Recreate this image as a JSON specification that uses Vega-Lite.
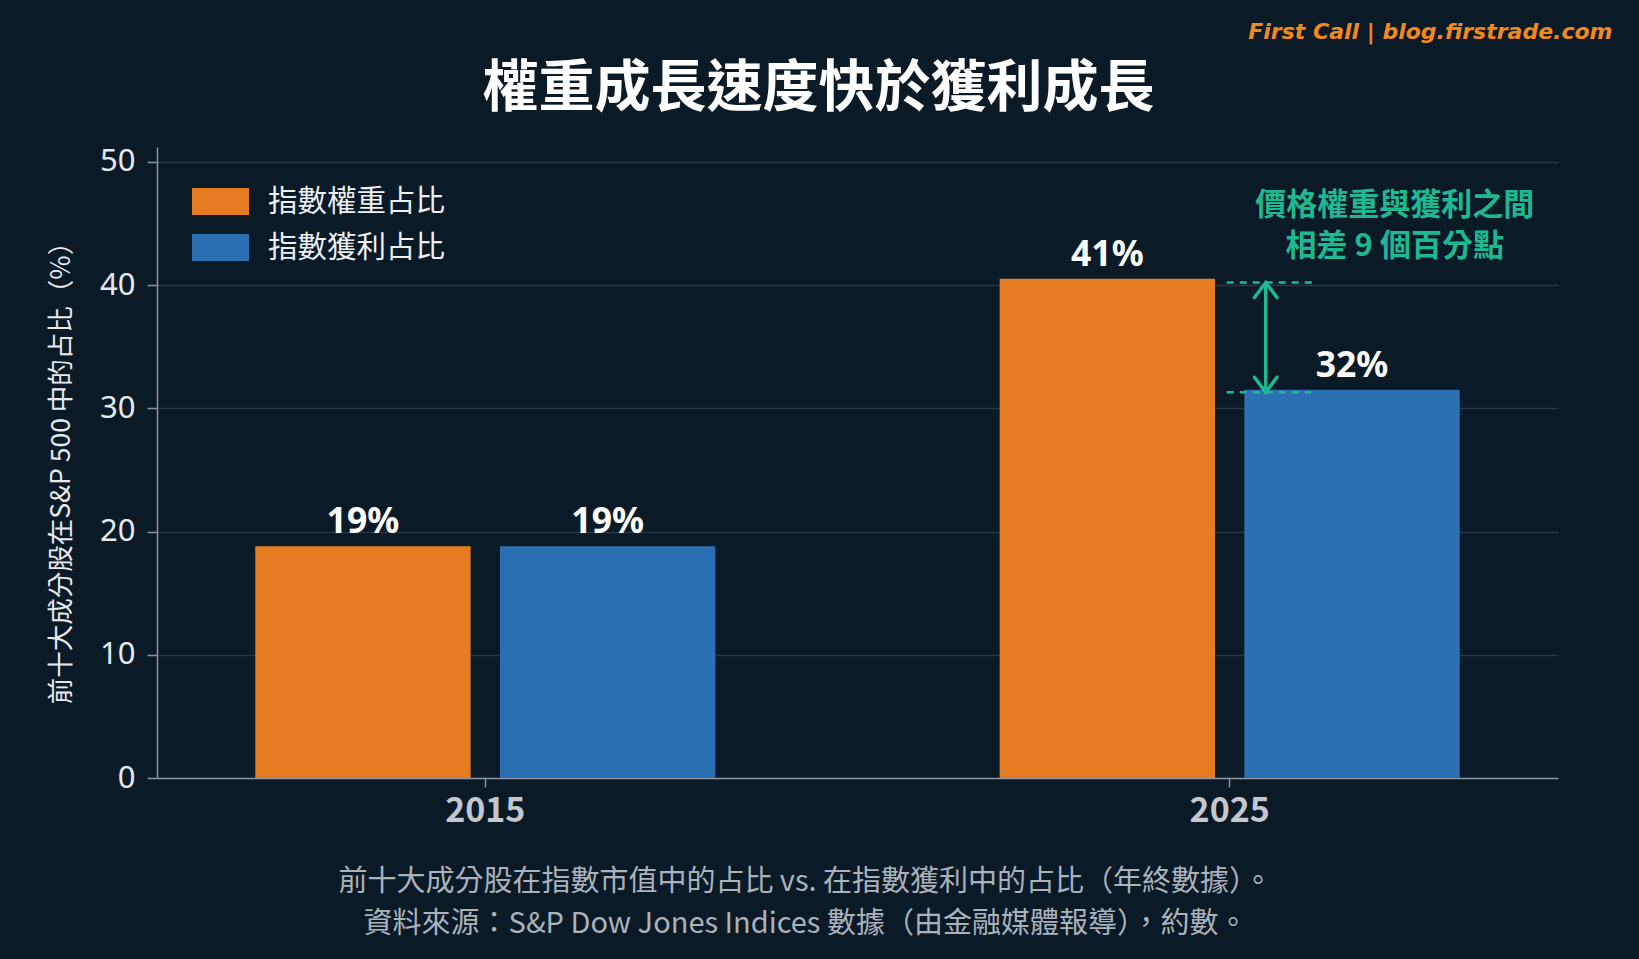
{
  "$schema": "https://vega.github.io/schema/vega-lite/v6.json",
  "description": "權重成長速度快於獲利成長",
  "width": 1401,
  "height": 631,
  "autosize": {"type": "none"},
  "padding": {"left": 157, "top": 147, "right": 81, "bottom": 181},
  "background": "#0b1a27",
  "title": {
    "text": "權重成長速度快於獲利成長",
    "font": "Noto Sans CJK TC",
    "fontSize": 56,
    "fontWeight": "bold",
    "color": "#ffffff",
    "anchor": "middle",
    "frame": "group",
    "dx": -39,
    "dy": 98,
    "offset": 0
  },
  "config": {
    "view": {"stroke": null},
    "font": "Noto Sans CJK TC"
  },
  "resolve": {"axis": {"x": "independent"}},
  "data": {
    "values": [
      {"year": "2015", "series": "指數權重占比", "value": 18.8, "label": "19%"},
      {"year": "2015", "series": "指數獲利占比", "value": 18.8, "label": "19%"},
      {"year": "2025", "series": "指數權重占比", "value": 40.5, "label": "41%"},
      {"year": "2025", "series": "指數獲利占比", "value": 31.5, "label": "32%"}
    ]
  },
  "layer": [
    {
      "mark": {"type": "bar"},
      "encoding": {
        "x": {
          "field": "year",
          "type": "nominal",
          "scale": {"paddingInner": 0.382, "paddingOuter": 0.132},
          "axis": {
            "title": ["前十大成分股在指數市值中的占比 vs. 在指數獲利中的占比（年終數據）。", "資料來源：S&P Dow Jones Indices 數據（由金融媒體報導），約數。"],
            "titleFont": "Noto Sans CJK TC",
            "titleFontSize": 29,
            "titleFontWeight": "normal",
            "titleColor": "#aab2bb",
            "titleLineHeight": 42,
            "titleX": 648,
            "titleY": 112,
            "titleAlign": "center",
            "titleBaseline": "alphabetic",
            "labelAngle": 0,
            "labelFontSize": 34,
            "labelFontWeight": "bold",
            "labelColor": "#c3c8cf",
            "labelPadding": 7,
            "tickSize": 9,
            "tickColor": "#8b949d",
            "tickWidth": 1.5,
            "domainColor": "#8b949d",
            "domainWidth": 1.5,
            "grid": false
          }
        },
        "xOffset": {
          "field": "series",
          "type": "nominal",
          "scale": {"domain": ["指數權重占比", "指數獲利占比"], "paddingInner": 0.12}
        },
        "y": {
          "field": "value",
          "type": "quantitative",
          "scale": {"domain": [0, 51.2], "nice": false},
          "axis": {
            "title": "前十大成分股在S&P 500 中的占比（%）",
            "titleFont": "Noto Sans CJK TC",
            "titleFontSize": 26.5,
            "titleFontWeight": "normal",
            "titleColor": "#e6eaee",
            "titleX": -96,
            "titleY": 319,
            "titleAngle": -90,
            "titleAlign": "center",
            "titleBaseline": "middle",
            "values": [0, 10, 20, 30, 40, 50],
            "labelFont": "Noto Sans",
            "labelFontSize": 31,
            "labelColor": "#e6eaee",
            "labelPadding": 12,
            "tickSize": 10,
            "tickColor": "#8b949d",
            "tickWidth": 1.5,
            "domainColor": "#8b949d",
            "domainWidth": 1.5,
            "grid": true,
            "gridColor": "#24384a",
            "gridWidth": 1.5
          }
        },
        "color": {
          "field": "series",
          "type": "nominal",
          "scale": {"domain": ["指數權重占比", "指數獲利占比"], "range": ["#e67c21", "#2a70b3"]},
          "legend": {
            "orient": "none",
            "legendX": 35,
            "legendY": 26,
            "title": null,
            "direction": "vertical",
            "symbolType": "M-1,-0.474H1V0.474H-1Z",
            "symbolSize": 3249,
            "symbolStrokeWidth": 0,
            "symbolOpacity": 1,
            "labelFont": "Noto Sans CJK TC",
            "labelFontSize": 29.5,
            "labelColor": "#eef1f4",
            "labelOffset": 19,
            "labelLimit": 0,
            "rowPadding": 3
          }
        }
      }
    },
    {
      "mark": {"type": "text", "fontSize": 35.5, "fontWeight": "bold", "font": "Noto Sans", "color": "#ffffff", "baseline": "alphabetic", "dy": -13},
      "encoding": {
        "x": {"field": "year", "type": "nominal", "axis": null},
        "xOffset": {"field": "series", "type": "nominal"},
        "y": {"field": "value", "type": "quantitative"},
        "text": {"field": "label"}
      }
    },
    {
      "data": {"values": [{"year": "2025", "level": 40.2}, {"year": "2025", "level": 31.3}]},
      "mark": {"type": "rule", "color": "#1db992", "strokeWidth": 2.5, "strokeDash": [7, 6], "xOffset": -3, "x2Offset": 85},
      "encoding": {
        "x": {"field": "year", "type": "nominal", "bandPosition": 0.5, "axis": null},
        "x2": {"field": "year", "bandPosition": 0.5},
        "y": {"field": "level", "type": "quantitative"}
      }
    },
    {
      "data": {"values": [{"year": "2025", "top": 40.2, "bottom": 31.3}]},
      "mark": {"type": "rule", "color": "#1db992", "strokeWidth": 3.5, "xOffset": 36},
      "encoding": {
        "x": {"field": "year", "type": "nominal", "axis": null},
        "y": {"field": "top", "type": "quantitative"},
        "y2": {"field": "bottom"}
      }
    },
    {
      "data": {"values": [{"year": "2025", "level": 40.2, "dir": "up"}, {"year": "2025", "level": 31.3, "dir": "down"}]},
      "mark": {"type": "point", "filled": false, "stroke": "#1db992", "strokeWidth": 3.5, "strokeCap": "round", "size": 900, "opacity": 1, "xOffset": 36},
      "encoding": {
        "x": {"field": "year", "type": "nominal", "axis": null},
        "y": {"field": "level", "type": "quantitative"},
        "shape": {
          "field": "dir",
          "type": "nominal",
          "scale": {"domain": ["up", "down"], "range": ["M-0.75,1L0,0L0.75,1", "M-0.75,-1L0,0L0.75,-1"]},
          "legend": null
        }
      }
    },
    {
      "data": {"values": [{"year": "2025", "line": "價格權重與獲利之間", "level": 46.4}, {"year": "2025", "line": "相差 9 個百分點", "level": 43.1}]},
      "mark": {"type": "text", "font": "Noto Sans CJK TC", "fontSize": 31, "fontWeight": "bold", "color": "#1db992", "align": "center", "baseline": "middle", "xOffset": 165},
      "encoding": {
        "x": {
          "field": "year",
          "type": "nominal",
          "axis": {
            "orient": "top",
            "labels": false,
            "ticks": false,
            "domain": false,
            "grid": false,
            "title": "First Call | blog.firstrade.com",
            "titleFont": "DejaVu Sans",
            "titleFontStyle": "italic",
            "titleFontWeight": "bold",
            "titleFontSize": 22,
            "titleColor": "#f08a1f",
            "titleX": 1455,
            "titleY": -116,
            "titleAlign": "right",
            "titleBaseline": "middle"
          }
        },
        "y": {"field": "level", "type": "quantitative"},
        "text": {"field": "line"}
      }
    }
  ]
}
